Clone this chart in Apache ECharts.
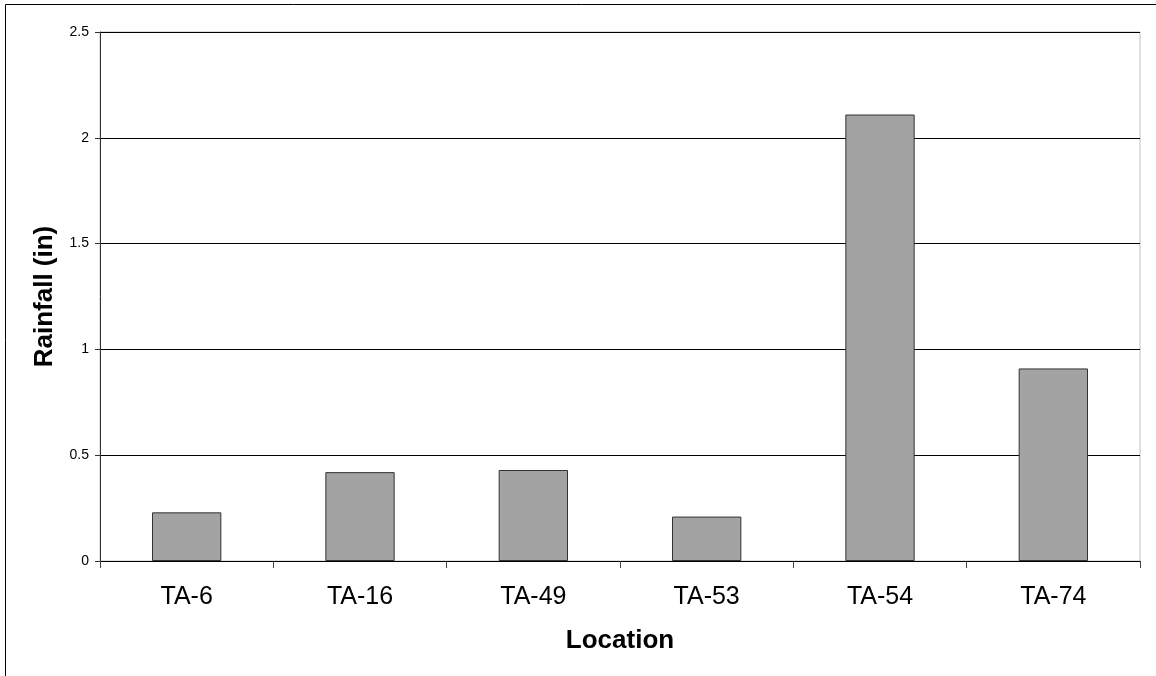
<!DOCTYPE html>
<html>
<head>
<meta charset="utf-8">
<script src="https://cdn.jsdelivr.net/npm/echarts@6/dist/echarts.min.js"></script>
<style>
  html, body { margin: 0; padding: 0; background: #fff; }
  #chart { width: 1156px; height: 676px; }
</style>
</head>
<body>
<div id="chart"></div>
<script>
// Rainfall totals by monitoring location
const locations = ['TA-6', 'TA-16', 'TA-49', 'TA-53', 'TA-54', 'TA-74'];
const rainfall = [0.23, 0.42, 0.43, 0.21, 2.11, 0.91];
const yTicks = [0, 0.5, 1, 1.5, 2, 2.5];

const chart = echarts.init(document.getElementById('chart'));
const font = 'Liberation Sans, Arial, sans-serif';

chart.setOption({
  animation: false,
  backgroundColor: '#ffffff',
  graphic: [{
    type: 'rect',
    shape: { x: 5.5, y: 4.5, width: 1300, height: 800 },
    style: { fill: 'none', stroke: '#000', lineWidth: 1 },
    silent: true
  }],
  grid: {
    left: 100, top: 32, right: 16, bottom: 115,
    show: true, borderColor: '#c0c0c0', borderWidth: 1, backgroundColor: 'transparent'
  },
  xAxis: {
    type: 'category',
    data: locations,
    name: 'Location',
    nameLocation: 'middle',
    nameGap: 67,
    nameTextStyle: { fontFamily: font, fontSize: 26, fontWeight: 'bold', color: '#000' },
    axisLine: { lineStyle: { color: '#000', width: 1 } },
    axisTick: { show: true, alignWithLabel: false, interval: 0, length: 7, lineStyle: { color: '#444' } },
    axisLabel: { fontFamily: font, fontSize: 25, color: '#000', margin: 24, interval: 0 },
    splitLine: { show: false }
  },
  yAxis: {
    type: 'value',
    min: yTicks[0],
    max: yTicks[yTicks.length - 1],
    interval: yTicks[1] - yTicks[0],
    name: 'Rainfall (in)',
    nameLocation: 'middle',
    nameRotate: 90,
    nameGap: 42,
    nameTextStyle: { fontFamily: font, fontSize: 26, fontWeight: 'bold', color: '#000' },
    axisLine: { show: true, lineStyle: { color: '#333', width: 1 } },
    axisTick: { show: true, inside: false, length: 5, lineStyle: { color: '#333' } },
    axisLabel: {
      fontFamily: font, fontSize: 14, color: '#000', margin: 11,
      formatter: v => String(v)
    },
    splitLine: { show: true, lineStyle: { color: '#000', width: 1 } }
  },
  series: [{
    type: 'bar',
    data: rainfall,
    barCategoryGap: '60%',
    itemStyle: { color: '#a3a3a3', borderColor: '#333', borderWidth: 1 }
  }]
});
</script>
</body>
</html>
